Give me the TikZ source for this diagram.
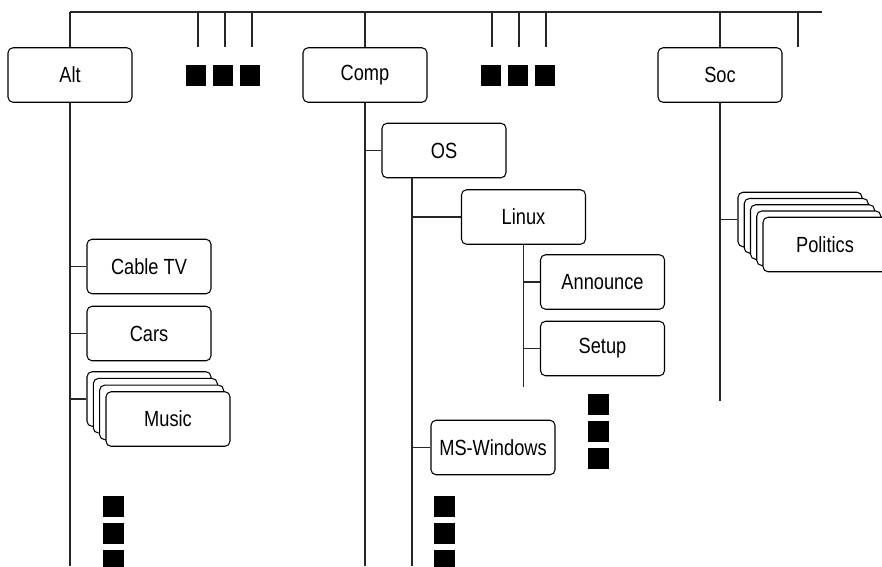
\documentclass[tikz,border=0pt]{standalone}
\usepackage{fontspec}
\newfontfamily\groupfont[FakeStretch=0.83]{Liberation Sans}
\usepackage{tikz}

\begin{document}
\begin{tikzpicture}[x=0.02cm, y=-0.02cm,
  wire/.style={line width=0.7pt, draw=black!85},
  group/.style={draw, line width=0.6pt, fill=white, rounded corners=0.1cm,
    minimum width=2.48cm, minimum height=1.09cm, inner sep=0pt,
    font=\groupfont\fontsize{12.5}{14}\selectfont},
  blob/.style={fill=black, minimum width=0.41cm, minimum height=0.42cm, inner sep=0pt}]
\useasboundingbox (0,0) rectangle (882,566);

% the top rail and the loose ends hanging from it
\coordinate (bus-l) at (70,12);
\coordinate (bus-r) at (822,12);
\draw[wire] (bus-l) -- (bus-r);
\foreach \x in {198, 225, 252, 492, 519, 546, 798} {
  \coordinate (tick-\x) at (\x,12);
  \draw[wire] (tick-\x) -- ++(0,35);
}

% "and so on" squares
\foreach \x in {196, 223, 250, 491, 518, 545}
  \node[blob] (more-\x) at (\x,75.5) {};
\foreach \y/\n in {506.5/1, 533.5/2, 560.5/3} {
  \node[blob] (alt-more-\n) at (113.5,\y) {};
  \node[blob] (os-more-\n) at (444.5,\y) {};
}
\foreach \y/\n in {404.5/1, 431.5/2, 458.5/3}
  \node[blob] (linux-more-\n) at (598.5,\y) {};

% top level groups
\node[group] (alt) at (70,75) {Alt};
\node[group] (comp) at (365,75) {Comp};
\node[group] (soc) at (720,75) {Soc};
\coordinate (alt-end) at (70,566);
\coordinate (comp-end) at (365,566);
\coordinate (soc-end) at (720,401);
\foreach \g in {alt, comp, soc} {
  \draw[wire] (\g.north) -- (\g.north |- bus-l);
  \draw[wire] (\g.south) -- (\g-end);
}

% alt.*
\node[group] (cable) at (149,266.5) {Cable TV};
\node[group] (cars) at (149,333.5) {Cars};
\foreach \i in {0,1,2}
  \node[group] (music-\i) at ({149+6.3*\i},{399+6.7*\i}) {};
\node[group] (music) at (168,419) {Music};
\foreach \n in {cable, cars, music-0}
  \draw[wire] (\n.west -| alt-end) -- (\n.west);

% comp.*
\node[group] (os) at (444,150.5) {OS};
\draw[wire] (os.west -| comp-end) -- (os.west);
\coordinate (os-end) at (412,566);
\draw[wire] (os-end |- os.south) -- (os-end);
\node[group] (linux) at (523.5,217) {Linux};
\node[group] (mswin) at (493,447.5) {MS-Windows};
\foreach \n in {linux, mswin}
  \draw[wire] (\n.west -| os-end) -- (\n.west);
\coordinate (linux-end) at (523.5,387);
\draw[wire] (linux.south) -- (linux-end);
\node[group] (announce) at (602.5,282) {Announce};
\node[group] (setup) at (602.5,348.5) {Setup};
\foreach \n in {announce, setup}
  \draw[wire] (\n.west -| linux-end) -- (\n.west);

% soc.*
\foreach \i in {0,...,3}
  \node[group] (politics-\i) at ({800+6.25*\i},{219.5+6.25*\i}) {};
\node[group] (politics) at (825,244.5) {Politics};
\draw[wire] (politics-0.west -| soc-end) -- (politics-0.west);
\end{tikzpicture}
\end{document}
